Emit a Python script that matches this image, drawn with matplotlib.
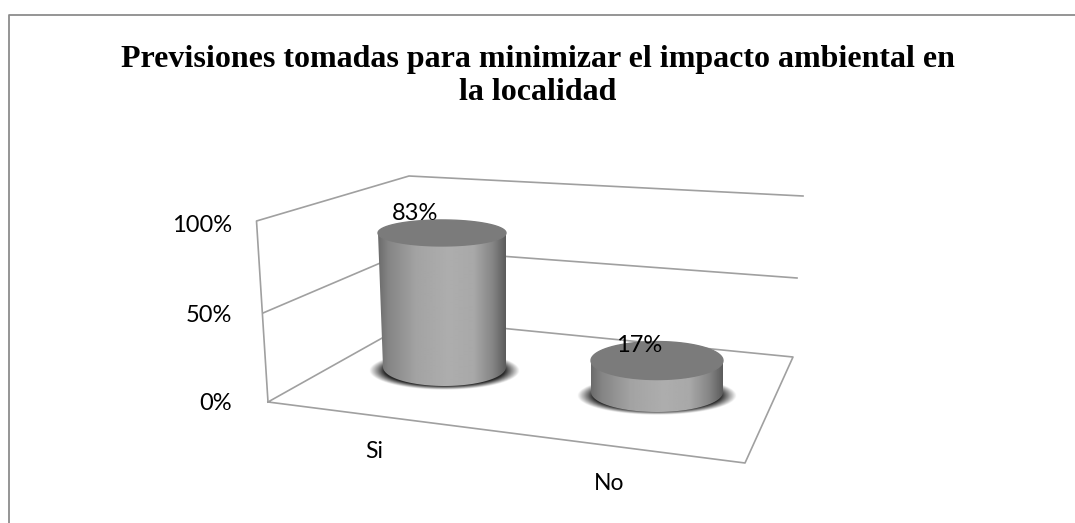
import matplotlib
matplotlib.use('Agg')
import matplotlib.pyplot as plt
import numpy as np
from matplotlib.patches import PathPatch
from matplotlib.path import Path

title = 'Previsiones tomadas para minimizar el impacto ambiental en\nla localidad'
categories = ['Si', 'No']
values = [83, 17]
value_labels = ['83%', '17%']
y_ticks = ['0%', '50%', '100%']

# pixel geometry of the fake 3d box
base_y = [367, 392]
px_per_unit = [1.615, 1.85]
top_x = [(378, 506), (591, 723)]
bottom_x = [(383, 506), (591, 723)]
top_ry = [13, 19]
bottom_ry = [19, 20]
label_xy = [(415.5, 214), (639, 346)]
grey = '#a0a0a0'

fig = plt.figure(figsize=(10.75, 5.23), dpi=100)
ax = fig.add_axes([0, 0, 1, 1])
ax.set_xlim(0, 1075)
ax.set_ylim(523, 0)
ax.axis('off')

# outer frame, only top and left show
ax.plot([8.5, 8.5, 1075], [523, 14.5, 14.5], color='#8c8c8c', lw=1.3)

# walls
ax.plot([268, 256.5, 409, 803], [402, 221, 176, 196], color=grey, lw=1.2)
ax.plot([263, 412, 797], [313, 249.5, 278], color=grey, lw=1.2)
ax.plot([268, 415, 793, 745, 268], [402, 319.6, 357, 463, 402], color=grey, lw=1.2)


def ellipse(cx, cy, rx, ry, a0=0, a1=2 * np.pi, n=80):
    t = np.linspace(a0, a1, n)
    return cx + rx * np.cos(t), cy + ry * np.sin(t)


profile_x = [0, 0.08, 0.3, 0.55, 0.75, 0.9, 1]
profile_v = [0.42, 0.52, 0.64, 0.68, 0.66, 0.52, 0.36]

for i in range(len(values)):
    h = values[i] * px_per_unit[i]
    y_top = base_y[i] - h
    y_bot = base_y[i]
    tl, tr = top_x[i]
    bl, br = bottom_x[i]

    # shadow on the floor
    sx0, sx1 = bl - 14, br + 14
    sy0, sy1 = y_bot - 16, y_bot + 23
    xx, yy = np.meshgrid(np.linspace(-1, 1, 200), np.linspace(-1, 1, 80))
    r = np.sqrt(xx ** 2 + yy ** 2)
    rgba = np.zeros((80, 200, 4))
    rgba[..., 3] = np.clip((1 - r) / 0.2, 0, 1) * 0.85
    ax.imshow(rgba, extent=[sx0, sx1, sy1, sy0], aspect='auto', zorder=3, interpolation='bilinear')

    # body
    ex, ey = ellipse((bl + br) / 2, y_bot, (br - bl) / 2, bottom_ry[i], 0, np.pi)
    verts = [(tl, y_top)] + [(tr, y_top)] + list(zip(ex, ey)) + [(tl, y_top)]
    clip = PathPatch(Path(verts), fc='none', ec='none', zorder=4)
    ax.add_patch(clip)
    u = np.linspace(0, 1, 256)
    shade = np.interp(u, profile_x, profile_v)
    im = ax.imshow(np.tile(shade, (2, 1)), cmap='gray', vmin=0, vmax=1,
                   extent=[min(tl, bl), max(tr, br), y_bot + bottom_ry[i], y_top],
                   aspect='auto', zorder=4)
    im.set_clip_path(clip)

    # top cap
    tx, ty = ellipse((tl + tr) / 2, y_top, (tr - tl) / 2, top_ry[i])
    ax.fill(tx, ty, color='#7b7b7b', zorder=5)

    ax.text(label_xy[i][0], label_xy[i][1], value_labels[i], ha='center', va='center',
            fontsize=17, family='Lato', color='black', zorder=6)

ax.set_xlim(0, 1075)
ax.set_ylim(523, 0)

ax.text(538, 76, title, ha='center', va='center', fontsize=23, fontweight='bold',
        family='Liberation Serif', color='black', linespacing=1.2)

for lab, y in zip(y_ticks, [404, 315, 226]):
    ax.text(232, y, lab, ha='right', va='center', fontsize=17, family='Lato', color='black')
for lab, x, y in zip(categories, [374, 609], [452, 484]):
    ax.text(x, y, lab, ha='center', va='center', fontsize=16.5, family='Lato', color='black')

fig.savefig('out.png', dpi=100)
